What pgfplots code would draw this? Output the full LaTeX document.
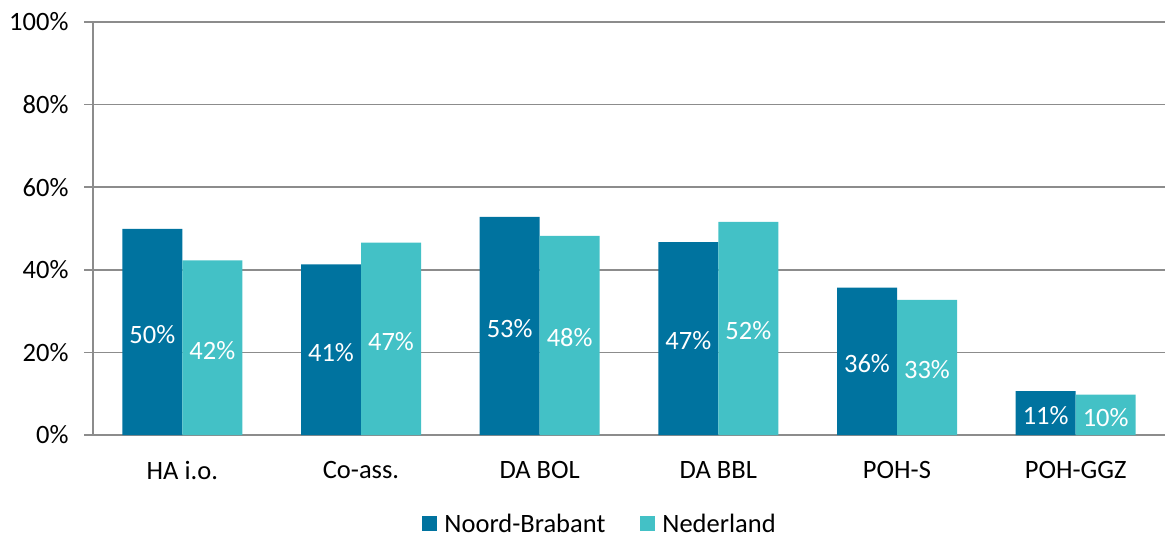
\documentclass[border=0pt]{standalone}
\usepackage{fontspec}
\setmainfont{Carlito}
\usepackage{pgfplots}
\pgfplotsset{compat=1.18}
\definecolor{nb}{HTML}{00739F}
\definecolor{nl}{HTML}{43C1C6}
\definecolor{gridgray}{HTML}{8C8C8C}
\newcommand{\fs}{\fontsize{26.5}{31}\selectfont}
\begin{document}
\begin{tikzpicture}
\begin{axis}[
  scale only axis, width=1072pt, height=413pt,
  ymin=0, ymax=100, ytick={0,20,...,100},
  /pgf/number format/assume math mode=true,
  yticklabel={\pgfmathprintnumber{\tick}\%},
  xmin=-0.5, xmax=5.5,
  xtick={0,...,5},
  xticklabels={HA i.o., Co-ass., DA BOL, DA BBL, POH-S, POH-GGZ},
  x tick style={draw=none},
  extra x ticks={-0.5,0.5,1.5,2.5,3.5,4.5,5.5},
  extra x tick labels={},
  extra x tick style={grid=none, major tick length=9pt, tick style={draw=gridgray, line width=1.5pt}},
  axis x line*=bottom, axis y line*=left,
  axis line style={-, draw=gridgray, line width=1.5pt},
  tick align=outside, major tick length=9pt,
  y tick style={draw=gridgray, line width=1.5pt},
  ymajorgrids, grid style={draw=gridgray, line width=1.5pt},
  tick label style={font=\fs, text=black},
  xticklabel style={yshift=-14pt},
  yticklabel style={xshift=-12pt},
  ybar=0pt, bar width=60pt,
  visualization depends on=y \as \rawy,
  nodes near coords={\pgfmathprintnumber[fixed,precision=0]{\pgfplotspointmeta}\%},
  every node near coord/.append style={font=\fs, text=white, anchor=center, yshift=-2.5pt, shift={(axis direction cs:0,-\rawy/2)}},
  legend style={at={(0.473,-0.215)}, anchor=center, draw=none, legend columns=2,
    font=\fs, fill=none,
    /tikz/every even column/.append style={column sep=33pt}},
  legend image code/.code={\fill (0pt,-7.5pt) rectangle (15pt,7.5pt); \path (20pt,0pt);},
]
\addplot[fill=nb, draw=none] coordinates {(0,49.9) (1,41.3) (2,52.8) (3,46.7) (4,35.7) (5,10.6)};
\addplot[fill=nl, draw=none] coordinates {(0,42.3) (1,46.6) (2,48.2) (3,51.6) (4,32.7) (5,9.8)};
\legend{Noord-Brabant, Nederland}
\end{axis}
\pgfresetboundingbox
\path ([shift={(-93pt,-102pt)}]current axis.south west) rectangle ([shift={(1pt,22pt)}]current axis.north east);
\end{tikzpicture}
\end{document}
